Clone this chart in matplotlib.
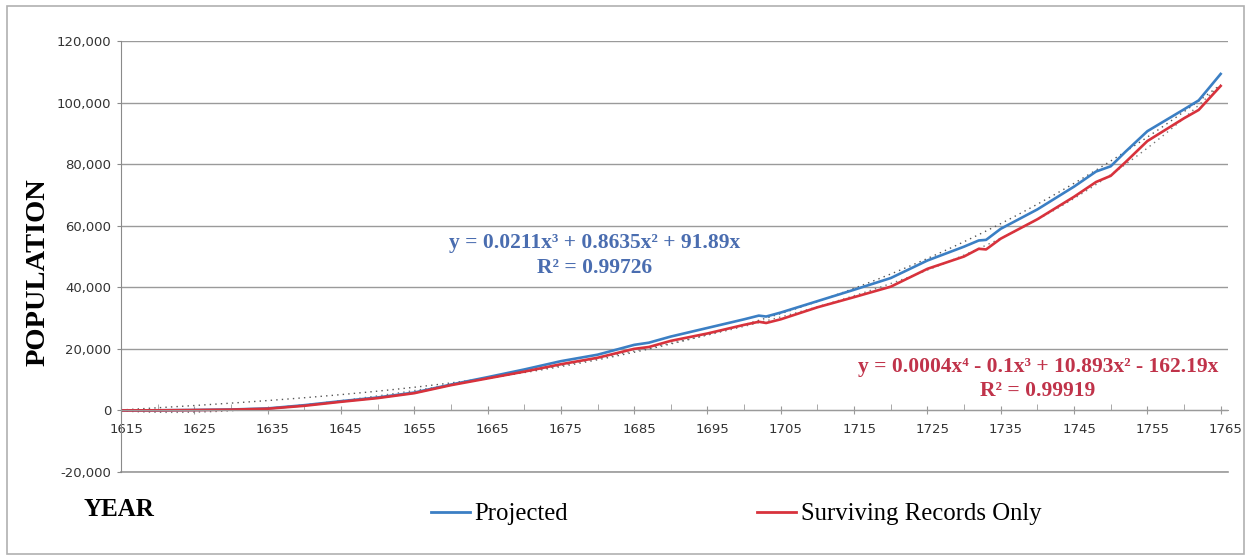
import numpy as np
import matplotlib.pyplot as plt
import matplotlib.transforms as mtransforms
from matplotlib.patches import Rectangle
from matplotlib.lines import Line2D

# values
years = [1615, 1620, 1625, 1630, 1635, 1640, 1645, 1650, 1655, 1660,
         1665, 1670, 1675, 1680, 1685, 1687, 1690, 1695, 1700, 1702,
         1703, 1705, 1710, 1715, 1720, 1725, 1730, 1732, 1733, 1735,
         1740, 1745, 1748, 1750, 1752, 1755, 1760, 1762, 1765]
projected = [0, 50, 150, 300, 650, 1700, 3000, 4200, 5800, 8400,
             10800, 13300, 16000, 18100, 21300, 22000, 24000, 26800, 29600, 30800,
             30500, 31800, 35500, 39200, 43000, 48700, 53200, 55200, 55400, 59000,
             65300, 72700, 77600, 79300, 84000, 90700, 97800, 100700, 109300]
surviving = [0, 40, 120, 250, 550, 1500, 2800, 4000, 5600, 8200,
             10400, 12600, 15000, 17100, 20000, 20600, 22600, 25000, 27800, 28800,
             28400, 29600, 33500, 36800, 40200, 46000, 50000, 52500, 52300, 55800,
             62100, 69400, 74200, 76200, 80600, 87500, 94900, 97600, 105400]

blue_eq = "y = 0.0211x³ + 0.8635x² + 91.89x"
blue_r2 = "R² = 0.99726"
red_eq = "y = 0.0004x⁴ - 0.1x³ + 10.893x² - 162.19x"
red_r2 = "R² = 0.99919"

blue = '#3b7fc4'
red = '#d8323c'
serif = ['Liberation Serif', 'DejaVu Serif']

yrs = np.array(years, dtype=float)
xi = yrs - years[0] + 1


def trend(y, deg):
    # polynomial fit through the origin, like the spreadsheet trendline
    A = np.column_stack([xi ** k for k in range(1, deg + 1)])
    c, *_ = np.linalg.lstsq(A, np.array(y, dtype=float), rcond=None)
    xs = np.linspace(xi[0], xi[-1], 300)
    ys = sum(c[k - 1] * xs ** k for k in range(1, deg + 1))
    return xs + years[0] - 1, ys


fig = plt.figure(figsize=(12.49, 5.57), dpi=100)
fig.patches.append(Rectangle((7 / 1249, 3 / 557), 1237 / 1249, 548 / 557,
                             transform=fig.transFigure, fill=False,
                             edgecolor='#b0b0b0', lw=1.2))

ax = fig.add_axes([121 / 1249, 1 - 472 / 557, 1107 / 1249, 431 / 557])

tx, ty = trend(projected, 3)
ax.plot(tx, ty, color='#555555', ls=(0, (1, 3)), lw=1)
tx, ty = trend(surviving, 4)
ax.plot(tx, ty, color='#777777', ls=(0, (1, 3)), lw=1)
ax.plot(years, projected, color=blue, lw=1.9)
ax.plot(years, surviving, color=red, lw=1.9)

ax.set_xlim(1615, 1766)
ax.set_ylim(-20000, 120000)
ax.set_yticks(range(-20000, 120001, 20000))
ax.set_yticklabels([f"{v:,}" for v in range(-20000, 120001, 20000)])
ax.set_xticks(range(1615, 1766, 10))
ax.set_xticks(range(1620, 1766, 10), minor=True)
ax.grid(axis='y', color='#9a9a9a', lw=1)
ax.axhline(-20000, color='#9a9a9a', lw=1.2, clip_on=False, zorder=0)
ax.set_axisbelow(True)

for s in ['top', 'right']:
    ax.spines[s].set_visible(False)
ax.spines['left'].set_color('#8a8a8a')
ax.spines['bottom'].set_position(('data', 0))
ax.spines['bottom'].set_color('#9a9a9a')
ax.tick_params(axis='y', length=3, color='#8a8a8a', labelsize=9.5,
               labelcolor='#333333', pad=4)
ax.tick_params(axis='x', which='both', length=4, direction='in',
               color='#9a9a9a', labelsize=9.5, labelcolor='#333333', pad=6)
ax.tick_params(axis='x', which='major', direction='inout', length=6)

# year labels sit a little right of their ticks in the reference
shift = mtransforms.ScaledTranslation(5 / 100, 0, fig.dpi_scale_trans)
for lab in ax.get_xticklabels():
    lab.set_transform(lab.get_transform() + shift)

fig.text(38 / 1249, 1 - 272 / 557, 'POPULATION', rotation=90, ha='center',
         va='center', family=serif, fontweight='bold', fontsize=20.5)
fig.text(83 / 1249, 1 - 510 / 557, 'YEAR', ha='left', va='center',
         family=serif, fontweight='bold', fontsize=18)

fig.text(595 / 1249, 1 - 243 / 557, blue_eq, ha='center', va='center',
         family=serif, fontweight='bold', fontsize=15.5, color='#4a6db0')
fig.text(595 / 1249, 1 - 268 / 557, blue_r2, ha='center', va='center',
         family=serif, fontweight='bold', fontsize=15.5, color='#4a6db0')
fig.text(1038 / 1249, 1 - 367 / 557, red_eq, ha='center', va='center',
         family=serif, fontweight='bold', fontsize=15.5, color='#c0334a')
fig.text(1038 / 1249, 1 - 391 / 557, red_r2, ha='center', va='center',
         family=serif, fontweight='bold', fontsize=15.5, color='#c0334a')

handles = [Line2D([], [], color=blue, lw=2), Line2D([], [], color=red, lw=2)]
fig.legend(handles, ['Projected', 'Surviving Records Only'], loc='center left',
           bbox_to_anchor=(409 / 1249, 1 - 514 / 557), ncol=2, frameon=False,
           prop={'family': serif, 'size': 17.8}, handlelength=1.55,
           handletextpad=0.2, columnspacing=7.65)

fig.savefig('out.png', dpi=100)
